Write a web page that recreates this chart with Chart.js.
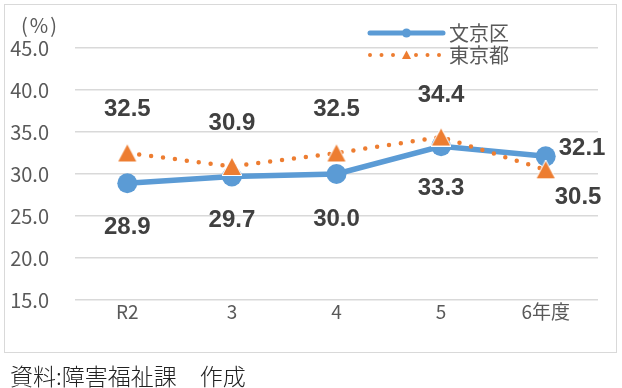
<!DOCTYPE html>
<html><head><meta charset="utf-8">
<script src="https://cdn.jsdelivr.net/npm/chart.js@4"></script>
<style>
html,body{margin:0;padding:0;background:#fff;}
#wrap{position:relative;width:622px;height:388px;overflow:hidden;background:#fff;}
#box{position:absolute;left:4px;top:4px;width:613px;height:349px;border:1.5px solid #d9d9d9;box-sizing:border-box;}
#c{position:absolute;left:0;top:0;}
#unit{position:absolute;left:21px;top:10px;font:20px "Noto Sans CJK JP";color:#595959;line-height:30px;letter-spacing:2px;}
#src{position:absolute;left:10px;top:360px;font:300 23px "Noto Sans CJK JP";color:#222;line-height:30px;white-space:pre;}
</style></head>
<body>
<div id="wrap">
<div id="box"></div>
<canvas id="c" width="622" height="388"></canvas>
<div id="unit">(%)</div>
<div id="src">資料:障害福祉課　作成</div>
</div>
<script>
const categories = ['R2', '3', '4', '5', '6年度'];
const bunkyoValues = [28.9, 29.7, 30.0, 33.3, 32.1];
const tokyoValues = [32.5, 30.9, 32.5, 34.4, 30.5];
const seriesNames = ['文京区', '東京都'];
const yTicks = [15, 20, 25, 30, 35, 40, 45];

const BLUE = '#5B9BD5', ORANGE = '#ED7D31';

function makeTriangle(w, h, border) {
  const c = document.createElement('canvas');
  c.width = w + border * 2; c.height = h + border * 2;
  const x = c.getContext('2d');
  x.beginPath();
  x.moveTo(c.width / 2, border);
  x.lineTo(c.width - border, c.height - border);
  x.lineTo(border, c.height - border);
  x.closePath();
  if (border > 0) { x.lineWidth = border * 2; x.strokeStyle = '#fff'; x.lineJoin = 'miter'; x.stroke(); }
  x.fillStyle = ORANGE; x.fill();
  return c;
}
const triBig = makeTriangle(18, 17, 1);

const labelPlugin = {
  id: 'valueLabels',
  afterDatasetsDraw(chart, args, opts) {
    const ctx = chart.ctx;
    ctx.save();
    ctx.font = 'bold 24px "Liberation Sans"';
    ctx.fillStyle = '#404040';
    ctx.textBaseline = 'middle';
    chart.data.datasets.forEach((ds, i) => {
      const meta = chart.getDatasetMeta(i);
      const offs = opts.offsets[i];
      meta.data.forEach((pt, j) => {
        const o = offs[j];
        ctx.textAlign = o[2];
        ctx.fillText(ds.data[j].toFixed(1), pt.x + o[0], pt.y + o[1]);
      });
    });
    ctx.restore();
  }
};

const legendPlugin = {
  id: 'customLegend',
  afterDraw(chart, args, opts) {
    const ctx = chart.ctx;
    ctx.save();
    const x0 = opts.x, x1 = opts.x + opts.len, xm = (x0 + x1) / 2;
    let y = opts.y;
    ctx.strokeStyle = BLUE; ctx.lineWidth = 5; ctx.lineCap = 'round';
    ctx.beginPath(); ctx.moveTo(x0, y); ctx.lineTo(x1, y); ctx.stroke();
    ctx.fillStyle = BLUE; ctx.beginPath(); ctx.arc(xm, y, 4.5, 0, Math.PI * 2); ctx.fill();
    ctx.font = '20px "Noto Sans CJK JP"'; ctx.fillStyle = '#595959';
    ctx.textBaseline = 'middle'; ctx.textAlign = 'left';
    ctx.fillText(chart.data.datasets[0].label, x1 + 6, y);
    y = opts.y + opts.gap;
    ctx.strokeStyle = ORANGE; ctx.lineWidth = 4; ctx.setLineDash([0, 11.5]);
    ctx.beginPath(); ctx.moveTo(x0, y); ctx.lineTo(x1, y); ctx.stroke();
    ctx.setLineDash([]);
    ctx.fillStyle = '#fff'; ctx.fillRect(xm - 5, y - 5, 10, 10);
    ctx.fillStyle = ORANGE; ctx.beginPath();
    ctx.moveTo(xm, y - 4.5); ctx.lineTo(xm + 4.5, y + 4); ctx.lineTo(xm - 4.5, y + 4); ctx.closePath(); ctx.fill();
    ctx.fillStyle = '#595959';
    ctx.fillText(chart.data.datasets[1].label, x1 + 6, y);
    ctx.restore();
  }
};

new Chart(document.getElementById('c'), {
  type: 'line',
  data: {
    labels: categories,
    datasets: [
      {
        label: seriesNames[0], data: bunkyoValues, order: 2,
        borderColor: BLUE, borderWidth: 5.5, backgroundColor: BLUE,
        pointStyle: 'circle', pointRadius: 10, pointHoverRadius: 10,
        pointBackgroundColor: BLUE, pointBorderWidth: 0
      },
      {
        label: seriesNames[1], data: tokyoValues, order: 1,
        borderColor: ORANGE, borderWidth: 4.5, borderDash: [0, 12], borderCapStyle: 'round',
        backgroundColor: ORANGE,
        pointStyle: triBig, pointRadius: 10, pointHoverRadius: 10, pointBorderWidth: 0
      }
    ]
  },
  options: {
    responsive: false, animation: false,
    layout: { padding: { left: 0, right: 24, top: 48, bottom: 0 } },
    plugins: {
      legend: { display: false }, tooltip: { enabled: false },
      valueLabels: {
        offsets: [
          [[0, 44, 'center'], [0, 44, 'center'], [0, 45, 'center'], [0, 42, 'center'], [13, -8, 'left']],
          [[0, -44, 'center'], [0, -43, 'center'], [0, -44, 'center'], [0, -42, 'center'], [9, 28, 'left']]
        ]
      },
      customLegend: { x: 370, y: 33, len: 73, gap: 22 }
    },
    scales: {
      x: {
        grid: { display: false, drawTicks: false }, border: { display: false },
        offset: true,
        ticks: { color: '#595959', font: { family: '"Noto Sans CJK JP"', size: 19 }, padding: 0, maxRotation: 0 },
        afterFit(s) { s.height = 88; }
      },
      y: {
        min: 15, max: 45,
        grid: { color: '#d9d9d9', lineWidth: 1.5, drawTicks: false }, border: { display: false },
        afterBuildTicks(s) { s.ticks = yTicks.map(v => ({ value: v })); },
        ticks: {
          color: '#595959', font: { family: '"Noto Sans CJK JP"', size: 20 }, padding: 26,
          callback: v => Number(v).toFixed(1)
        },
        afterFit(s) { s.width = 75; }
      }
    }
  },
  plugins: [labelPlugin, legendPlugin]
});
</script>
</body></html>
